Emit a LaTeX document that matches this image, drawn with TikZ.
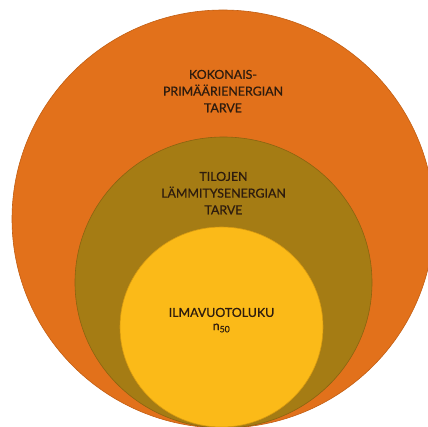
\documentclass[tikz,border=0pt]{standalone}
\usepackage{fontspec}
\setmainfont{Lato}
\newfontfamily\tagfont{Lato}[RawFeature={embolden=0.7}]
\usetikzlibrary{positioning}
\usetikzlibrary{shapes.geometric}
\definecolor{primorange}{HTML}{E2711B}
\definecolor{primedge}{HTML}{C25E12}
\definecolor{heatolive}{HTML}{A57C14}
\definecolor{heatedge}{HTML}{8A6410}
\definecolor{leakyellow}{HTML}{FBBA18}
\definecolor{leakedge}{HTML}{D89A10}
\definecolor{textbrown}{HTML}{2E1C0E}

\begin{document}
\begin{tikzpicture}[x=1pt, y=-1pt]
\tikzstyle{disc} = [ellipse, draw, inner sep=0pt, line width=0.6pt]
\tikzstyle{tag} = [text=textbrown, align=center, inner sep=0pt, font=\tagfont\fontsize{12.4}{16.7}\selectfont]

% frame
    \useasboundingbox (0,0) rectangle (428,427);
% circles
    % total demand
    \node [disc, fill=primorange, draw=primedge, minimum width=422pt, minimum height=418pt] (primary) at (223,219) {};
    % heating demand
    \node [disc, fill=heatolive, draw=heatedge, minimum width=297pt, minimum height=291pt] (heating) at (223.5,282.5) {};
    % air leakage
    \node [disc, fill=leakyellow, draw=leakedge, minimum width=203pt, minimum height=200pt] (leakage) at (221.5,327) {};
% labels
    \node [tag, below=60pt of primary.north] (primary text) {KOKONAIS-\\PRIMÄÄRIENERGIAN\\TARVE};
    \node [tag, below=35pt of heating.north] (heating text) {TILOJEN\\LÄMMITYSENERGIAN\\TARVE};
    \node [tag, below=81pt of leakage.north] (leakage text) {ILMAVUOTOLUKU\\[-3.5pt]n\textsubscript{50}};
\end{tikzpicture}
\end{document}
